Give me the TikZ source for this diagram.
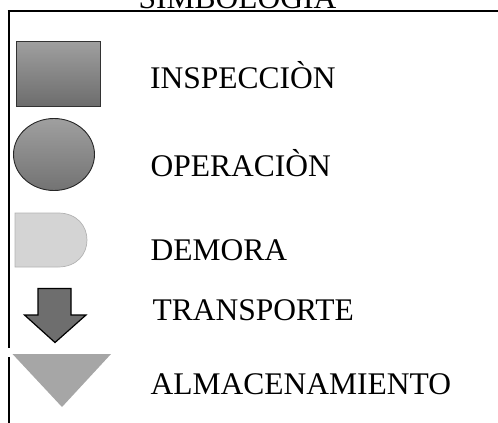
\documentclass[tikz,border=0pt]{standalone}
\usepackage{fontspec}
\setmainfont{Liberation Serif}
\begin{document}
\begin{tikzpicture}[x=1pt,y=-1pt,
  lbl/.style={anchor=base west,inner sep=0pt,font=\fontsize{31.5}{36}\selectfont},
  frame/.style={line width=2pt,black}]
\useasboundingbox (0,0) rectangle (498,423);
\clip (0,0) rectangle (498,423);
% title
\node[lbl] (title) at (138.5,8.5) {SIMBOLOGIA};
% frame
\draw[frame] (7.5,11) -- (498,11);
\draw[frame] (8.5,11) -- (8.5,348);
\draw[frame] (8.5,357) -- (8.5,423);
% inspeccion
\shade[top color=gray!75!white, bottom color=gray!85!black] (16,41) rectangle (100.5,106.5);
\draw[line width=0.9pt,black!80] (16,41) rectangle (100.5,106.5);
\node[lbl] (insp) at (150,88.3) {INSPECCIÒN};
% operacion
\shade[top color=gray!75!white, bottom color=gray!90!black] (54,154.5) ellipse[x radius=40.5,y radius=36];
\draw[line width=0.9pt,black!85] (54,154.5) ellipse[x radius=40.5,y radius=36];
\node[lbl] (oper) at (150.5,176.7) {OPERACIÒN};
% demora
\filldraw[fill=black!17,draw=black!30,line width=0.7pt]
  (15,213) -- (58,213) .. controls (77,213) and (87,226) .. (87,240)
  .. controls (87,254) and (77,267) .. (58,267) -- (15,267) -- cycle;
\node[lbl] (dem) at (150.5,260) {DEMORA};
% transporte
\filldraw[fill=black!57,draw=black,line width=1.2pt,line join=miter]
  (38,288.5) -- (71,288.5) -- (71,315) -- (86,315) -- (55,342.5) -- (24.5,315) -- (38,315) -- cycle;
\node[lbl] (trans) at (152.5,320) {TRANSPORTE};
% almacenamiento
\fill[black!35] (12.5,354) -- (111,354) -- (62,407) -- cycle;
\node[lbl] (alm) at (150.5,394.3) {ALMACENAMIENTO};
\end{tikzpicture}
\end{document}
